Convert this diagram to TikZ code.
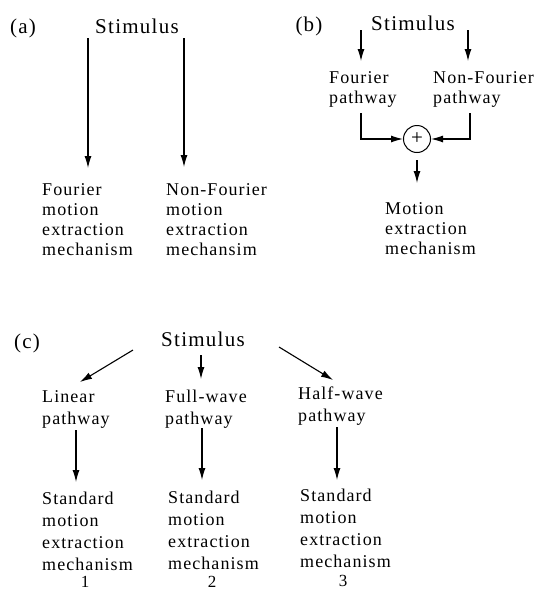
\documentclass[tikz,border=0pt]{standalone}
\usepackage{fontspec}
\setmainfont{Liberation Serif}[LetterSpace=6]
\usetikzlibrary{arrows.meta}

\begin{document}
\begin{tikzpicture}[x=1pt, y=-1pt,
    txt/.style={anchor=base west, inner sep=0pt, align=left, font=\fontsize{18}{20}\selectfont},
    txtc/.style={txt, font=\fontsize{18}{22}\selectfont},
    stim/.style={anchor=base, inner sep=0pt, font=\fontsize{21}{22}\selectfont},
    num/.style={anchor=base, inner sep=0pt, font=\fontsize{17}{17}\selectfont},
    arr/.style={line width=1.1pt, -{Latex[length=12pt, width=7pt]}}]
    \useasboundingbox (0,0) rectangle (540,592);

    % Panel (a) -- nodes sit on the baseline of their last line
    \node[stim] (la) at (23,33) {(a)};
    \node[stim] (sa) at (137,33) {Stimulus};
    \node[txt] (fa) at (42,255) {Fourier\\motion\\extraction\\mechanism};
    \node[txt] (na) at (166,255) {Non-Fourier\\motion\\extraction\\mechansim};
    \coordinate (a1) at (88,38);  \coordinate (a1e) at (88,168);
    \coordinate (a2) at (184,38); \coordinate (a2e) at (184,167);
    \draw[arr] (a1) -- (a1e);
    \draw[arr] (a2) -- (a2e);

    % Panel (b)
    \node[stim] (lb) at (309,31) {(b)};
    \node[stim] (sb) at (413,30) {Stimulus};
    \node[txt] (fb) at (329,103) {Fourier\\pathway};
    \node[txt] (nb) at (433,103) {Non-Fourier\\pathway};
    \node[circle, draw, line width=1pt, minimum size=27pt, inner sep=0pt,
          font=\fontsize{21}{21}\selectfont] (sum) at (417,139) {+};
    \node[txt] (mb) at (385,254) {Motion\\extraction\\mechanism};
    \coordinate (b1) at (361,30);  \coordinate (b1e) at (361,61);
    \coordinate (b2) at (468,30);  \coordinate (b2e) at (468,61);
    \coordinate (b3) at (361,113); \coordinate (b4) at (470,113);
    \coordinate (b5) at (417,160); \coordinate (b5e) at (417,183);
    \draw[arr] (b1) -- (b1e);
    \draw[arr] (b2) -- (b2e);
    \draw[arr] (b3) |- (sum.west);
    \draw[arr] (b4) |- (sum.east);
    \draw[arr] (b5) -- (b5e);

    % Panel (c)
    \node[stim] (lc) at (27,348) {(c)};
    \node[stim] (sc) at (203,346) {Stimulus};
    \node[txtc] (lp) at (42,424) {Linear\\pathway};
    \node[txtc] (fp) at (165,424) {Full-wave\\pathway};
    \node[txtc] (hp) at (298,421) {Half-wave\\pathway};
    \node[txtc] (m1) at (42,570) {Standard\\motion\\extraction\\mechanism};
    \node[txtc] (m2) at (168,569) {Standard\\motion\\extraction\\mechanism};
    \node[txtc] (m3) at (300,567) {Standard\\motion\\extraction\\mechanism};
    \node[num] (n1) at (85,587) {1};
    \node[num] (n2) at (212,587) {2};
    \node[num] (n3) at (343,586) {3};
    \coordinate (c1) at (133,350); \coordinate (c1e) at (80,382);
    \coordinate (c2) at (201,355); \coordinate (c2e) at (201,379);
    \coordinate (c3) at (279,347); \coordinate (c3e) at (333,380);
    \draw[arr] (c1) -- (c1e);
    \draw[arr] (c2) -- (c2e);
    \draw[arr] (c3) -- (c3e);

    % Pathways to mechanisms
    \coordinate (d1) at (76,430);  \coordinate (d1e) at (76,482);
    \coordinate (d2) at (202,428); \coordinate (d2e) at (202,480);
    \coordinate (d3) at (337,427); \coordinate (d3e) at (337,480);
    \draw[arr] (d1) -- (d1e);
    \draw[arr] (d2) -- (d2e);
    \draw[arr] (d3) -- (d3e);
\end{tikzpicture}
\end{document}
